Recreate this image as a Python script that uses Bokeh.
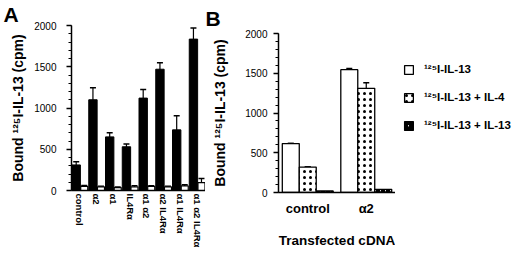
from bokeh.plotting import figure
from bokeh.models import (ColumnDataSource, FactorRange, Range1d, Whisker, TeeHead,
                          SingleIntervalTicker, Legend, LegendItem, Title)
from bokeh.transform import dodge
from bokeh.layouts import row
from bokeh.embed import file_html
from bokeh.resources import INLINE

FONT = "Liberation Sans"
H = 250
BOTTOM = 58

# ---------------- data ----------------
cats_a = ["control", "α2", "α1", "IL4Rα", "α1 α2", "α2 IL4Rα", "α1 IL4Rα", "α1 α2 IL4Rα"]
bound_a = [310, 1100, 650, 530, 1120, 1470, 735, 1835]
bound_err_a = [40, 145, 50, 35, 105, 80, 170, 135]
comp_a = [50, 45, 35, 45, 50, 45, 55, 95]
comp_err_a = [10, 8, 6, 12, 8, 8, 15, 50]

cats_b = ["control", "α2"]
il13_b = [615, 1545]
il13_err_b = [0, 15]
il4_b = [320, 1310]
il4_err_b = [0, 70]
il13cold_b = [20, 40]
il13cold_err_b = [0, 0]

series_names = ["¹²⁵I-IL-13", "¹²⁵I-IL-13 + IL-4", "¹²⁵I-IL-13 + IL-13"]
ylabel = "Bound ¹²⁵I-IL-13 (cpm)"

def err_cols(vals, errs):
    return [v + e for v, e in zip(vals, errs)], [v - e for v, e in zip(vals, errs)]

STYLE = [
    dict(fill_color="white", line_color="black", line_width=1.3),
    dict(fill_color="white", line_color="black", line_width=1.3,
         hatch_pattern="dot", hatch_color="black", hatch_scale=6, hatch_weight=1.8),
    dict(fill_color="white", line_color="black", line_width=1.3,
         hatch_pattern="right_diagonal_line", hatch_color="black", hatch_scale=5, hatch_weight=2.5),
]

# ---------------- panel A ----------------
up1, lo1 = err_cols(bound_a, bound_err_a)
up2, lo2 = err_cols(comp_a, comp_err_a)
src_a = ColumnDataSource(dict(cat=cats_a, b=bound_a, c=comp_a, up1=up1, lo1=lo1, up2=up2, lo2=lo2))

pa = figure(width=205, height=H, x_range=FactorRange(*cats_a), y_range=Range1d(0, 2000),
            output_backend="svg", toolbar_location=None,
            min_border_left=71, min_border_right=0, min_border_top=15, min_border_bottom=BOTTOM)
pa.vbar(x=dodge("cat", -0.22, range=pa.x_range), top="b", width=0.5, source=src_a,
        fill_color="black", line_color="black")
pa.vbar(x=dodge("cat", 0.26, range=pa.x_range), top="c", width=0.42, source=src_a,
        fill_color="white", line_color="black", line_width=1.2)
for xo, u, l in [(-0.22, "up1", "lo1"), (0.26, "up2", "lo2")]:
    w = Whisker(base=dodge("cat", xo, range=pa.x_range), upper=u, lower=l, source=src_a,
                upper_head=TeeHead(size=6, line_width=1.5), lower_head=None, line_width=1.2)
    pa.add_layout(w)

# ---------------- panel B ----------------
u13, l13 = err_cols(il13_b, il13_err_b)
u4, l4 = err_cols(il4_b, il4_err_b)
uc, lc = err_cols(il13cold_b, il13cold_err_b)
src_b = ColumnDataSource(dict(cat=cats_b, a=il13_b, b=il4_b, c=il13cold_b,
                              ua=u13, la=l13, ub=u4, lb=l4, uc=uc, lc=lc))

pb = figure(width=190, height=H, x_range=FactorRange(*cats_b), y_range=Range1d(0, 2000),
            output_backend="svg", toolbar_location=None,
            min_border_left=73, min_border_right=0, min_border_top=25, min_border_bottom=BOTTOM)
for off, col, st in zip([-0.29, 0.0, 0.29], ["a", "b", "c"], STYLE):
    pb.vbar(x=dodge("cat", off, range=pb.x_range), top=col, width=0.29, source=src_b, **st)
for xo, u, l in [(-0.29, "ua", "la"), (0.0, "ub", "lb")]:
    w = Whisker(base=dodge("cat", xo, range=pb.x_range), upper=u, lower=l, source=src_b,
                upper_head=TeeHead(size=6, line_width=1.5), lower_head=TeeHead(size=6, line_width=1.5),
                line_width=1.2)
    pb.add_layout(w)

# ---------------- legend panel ----------------
pl = figure(width=117, height=H, x_range=FactorRange(*cats_b), y_range=Range1d(0, 2000),
            output_backend="svg", toolbar_location=None,
            min_border_left=0, min_border_right=0, min_border_top=0, min_border_bottom=0)
pl.axis.visible = False
pl.grid.visible = False
pl.outline_line_color = None
leg_r = []
for col, st in zip(["a", "b", "c"], STYLE):
    r = pl.vbar(x="cat", top=col, width=0.3, source=src_b, **st)
    r.visible = False
    leg_r.append(r)
legend = Legend(items=[LegendItem(label=n, renderers=[r]) for n, r in zip(series_names, leg_r)],
                location=(8, 119), padding=0, margin=0, spacing=16,
                glyph_width=11, glyph_height=11, label_height=12, label_standoff=10,
                label_text_font=FONT, label_text_font_style="bold", label_text_font_size="11.5px",
                label_text_color="black", inactive_fill_alpha=0,
                border_line_color=None, background_fill_alpha=0)
pl.add_layout(legend)

# ---------------- common styling ----------------
for p, ylab_stand, tick_stand in [(pa, 5, 10), (pb, 14, 6)]:
    p.outline_line_color = None
    p.grid.grid_line_color = None
    p.yaxis.ticker = SingleIntervalTicker(interval=500, num_minor_ticks=5)
    p.yaxis.axis_label = ylabel
    p.yaxis.axis_label_text_font = FONT
    p.yaxis.axis_label_text_font_style = "bold"
    p.yaxis.axis_label_text_font_size = "14px"
    p.yaxis.axis_label_standoff = ylab_stand
    p.yaxis.major_label_standoff = tick_stand
    p.yaxis.major_label_text_font = FONT
    p.yaxis.major_label_text_font_size = "10px"
    p.yaxis.major_tick_out = 5
    p.yaxis.major_tick_in = 0
    p.yaxis.minor_tick_out = 3
    p.yaxis.minor_tick_in = 0
    for ax in (p.xaxis, p.yaxis):
        ax.axis_line_width = 1.5
        ax.major_tick_line_width = 1.3
        ax.axis_line_color = "black"
        ax.major_tick_line_color = "black"
        ax.minor_tick_line_color = "black"
        ax.major_label_text_color = "black"
        ax.axis_label_text_color = "black"
    p.xaxis.major_tick_line_color = None
    p.xaxis.minor_tick_line_color = None
    p.xaxis.major_tick_out = 0
    p.xaxis.major_tick_in = 0
    p.xaxis.major_label_text_font = FONT
    p.xaxis.major_label_text_font_style = "bold"
    p.x_range.range_padding = 0

for p in (pa, pb, pl):
    p.frame_align = False

pa.xaxis.axis_label = None
pa.xaxis.axis_label_standoff = 0
pa.xaxis.major_label_orientation = "vertical"
pa.xaxis.major_label_text_font_size = "9.5px"
pa.xaxis.major_label_standoff = 3

pb.xaxis.major_label_text_font_size = "13px"
pb.xaxis.major_label_standoff = 8
pb.xaxis.axis_label = "Transfected cDNA"
pb.xaxis.axis_label_text_font = FONT
pb.xaxis.axis_label_text_font_style = "bold"
pb.xaxis.axis_label_text_font_size = "13.5px"
pb.xaxis.axis_label_standoff = 14

pa.title = Title(text="A", align="left", offset=-68, standoff=0, text_line_height=0.7,
                 text_font=FONT, text_font_style="bold", text_font_size="21px", text_color="black")
pb.title = Title(text="B", align="left", offset=-73, standoff=8, text_line_height=0.6,
                 text_font=FONT, text_font_style="bold", text_font_size="21px", text_color="black")

layout = row(pa, pb, pl)
open("out.html", "w").write(file_html(layout, INLINE))
